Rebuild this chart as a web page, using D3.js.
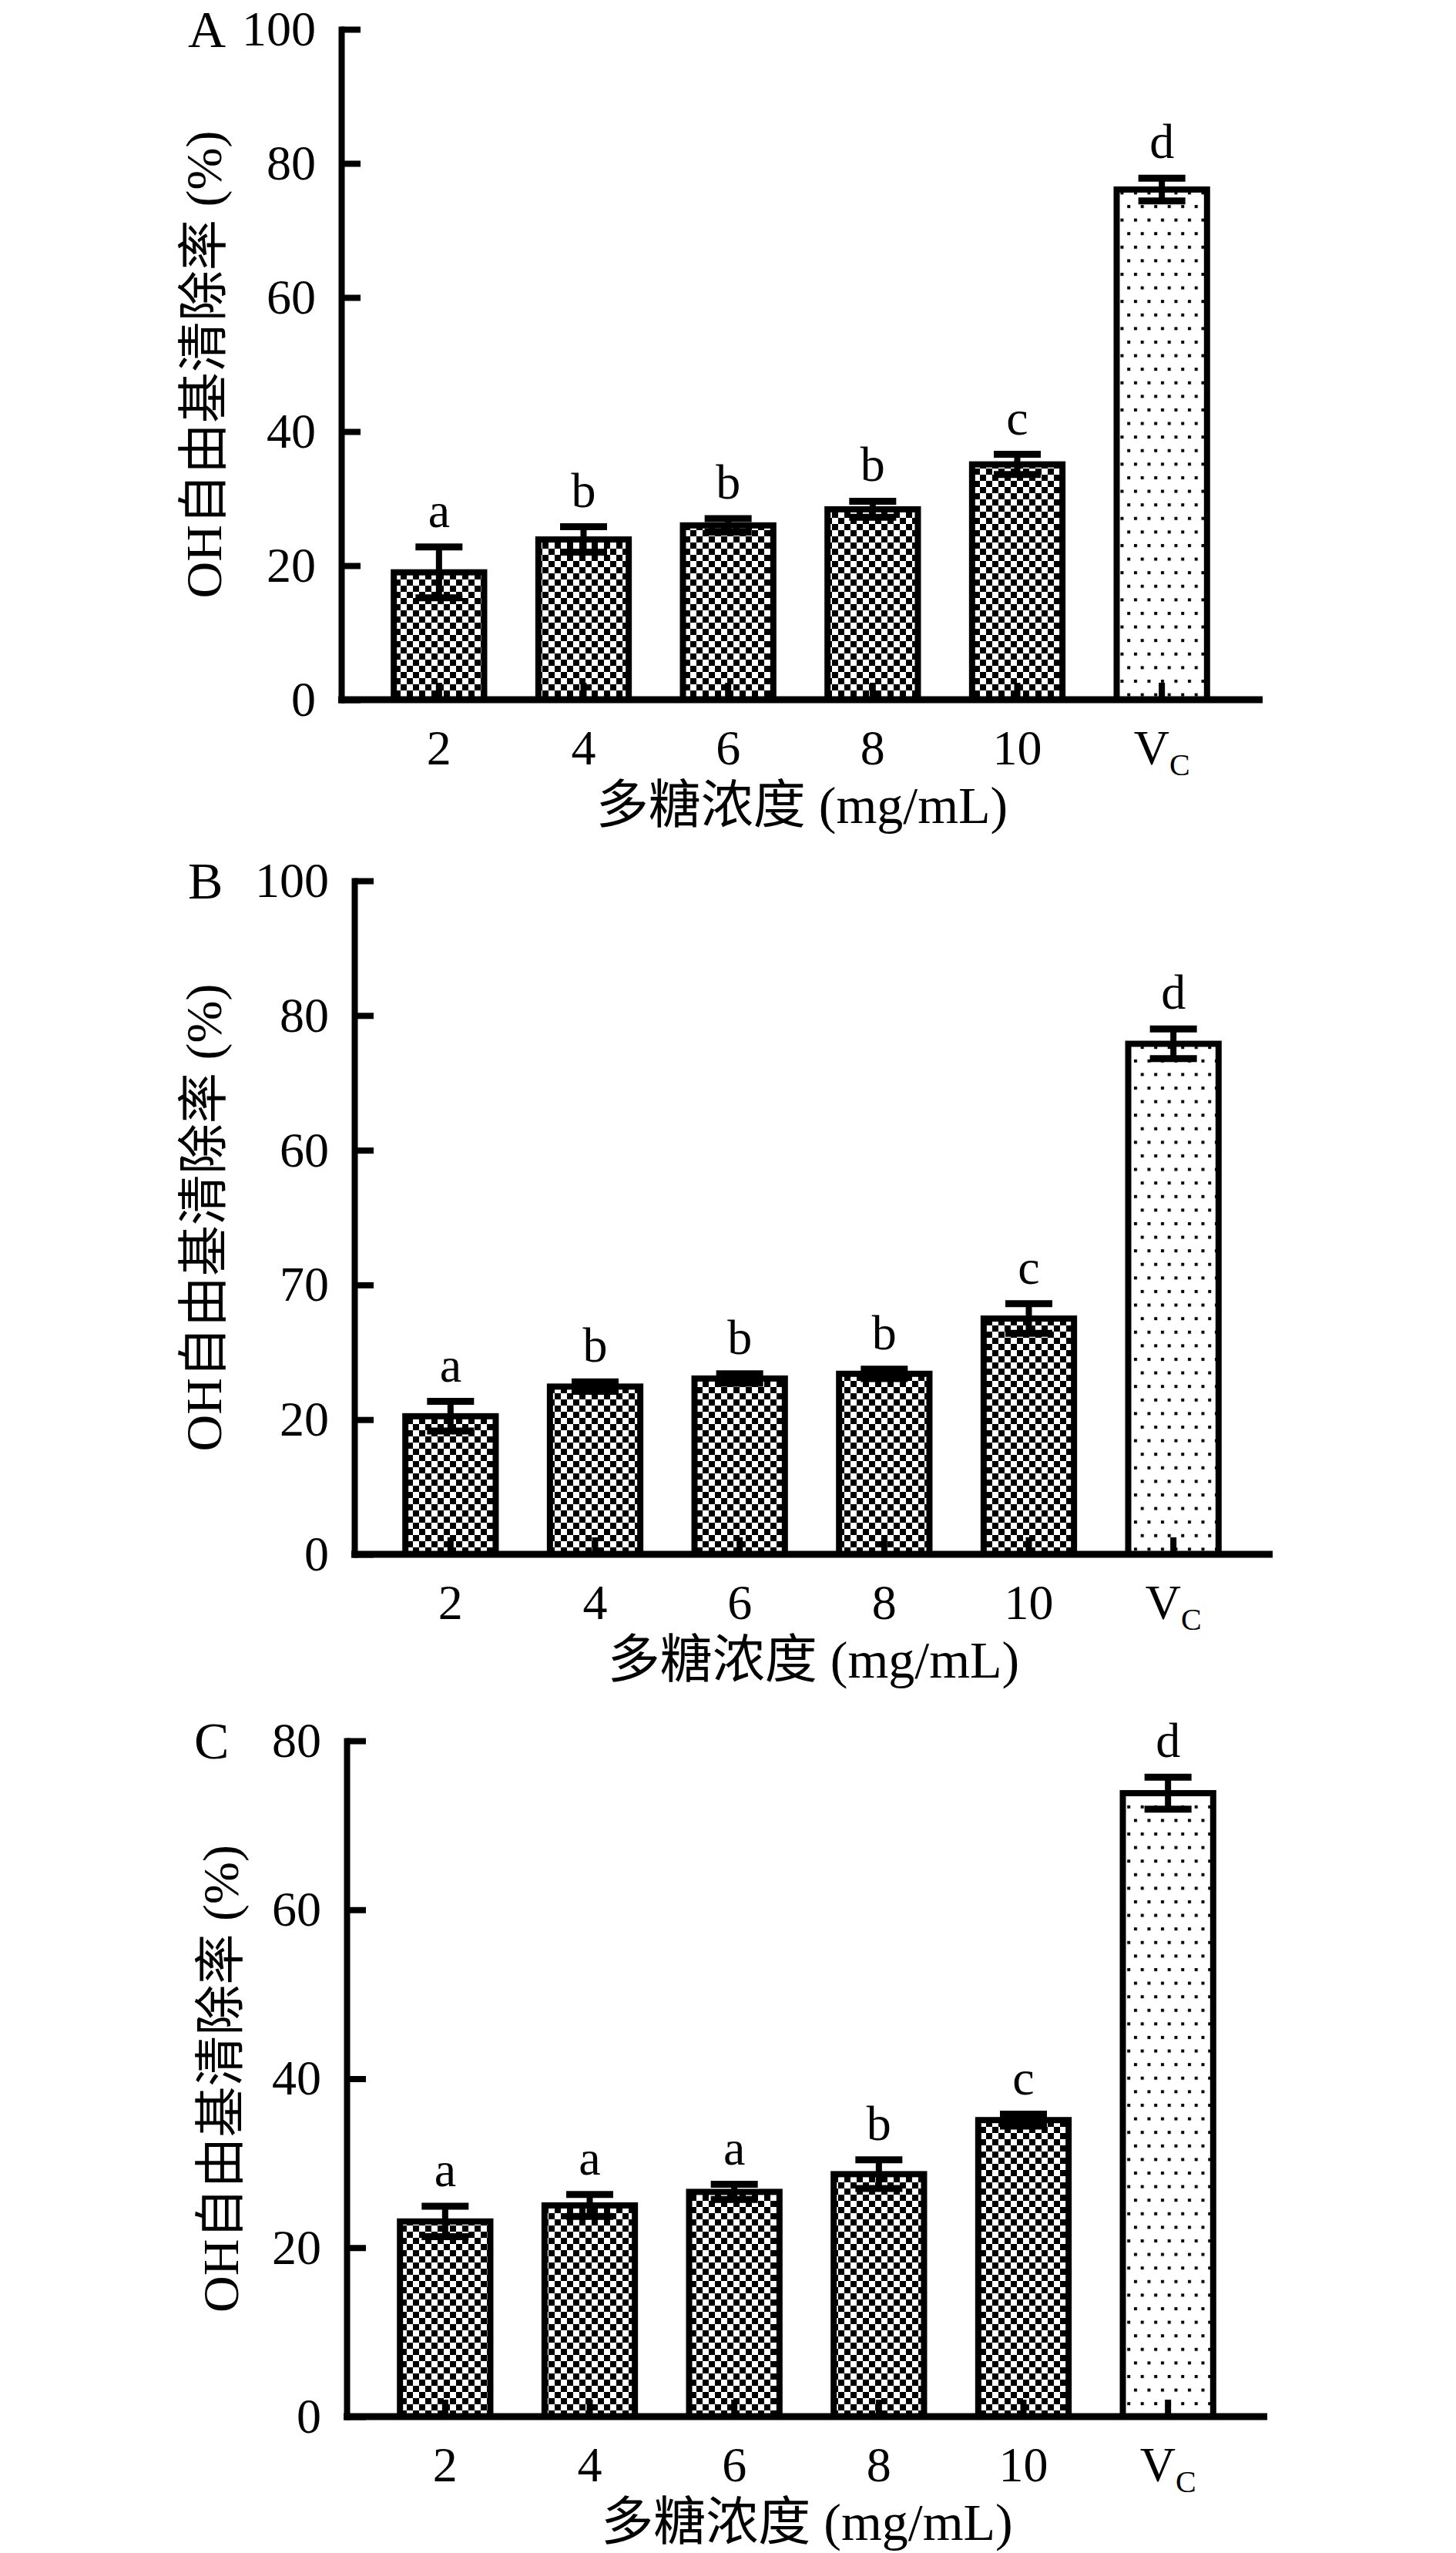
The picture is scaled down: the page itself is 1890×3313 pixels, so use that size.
<!DOCTYPE html>
<html>
<head>
<meta charset="utf-8">
<script src="https://cdn.jsdelivr.net/npm/d3@7/dist/d3.min.js"></script>
<style>
  html, body { margin: 0; padding: 0; background: #fff; }
  svg text { font-family: "Liberation Serif", "Times New Roman", "Noto Sans CJK SC", serif; fill: #000; }
</style>
</head>
<body>
<svg id="chart" width="1890" height="3313"></svg>
<script>
// ---- data ----
const categories = ["2", "4", "6", "8", "10", "VC"];

const valuesA = [19.0, 23.9, 26.0, 28.4, 35.1, 76.1];
const errorsA = [3.8, 1.9, 1.0, 1.2, 1.5, 1.7];
const lettersA = ["a", "b", "b", "b", "c", "d"];
const ticksA = [0, 20, 40, 60, 80, 100];
const tickLabelsA = ["0", "20", "40", "60", "80", "100"];

const valuesB = [20.5, 24.9, 26.1, 26.8, 35.0, 75.8];
const errorsB = [2.2, 0.7, 0.7, 0.7, 2.2, 2.2];
const lettersB = ["a", "b", "b", "b", "c", "d"];
const ticksB = [0, 20, 40, 60, 80, 100];
const tickLabelsB = ["0", "20", "70", "60", "80", "100"];

const valuesC = [23.1, 25.0, 26.6, 28.7, 35.1, 73.8];
const errorsC = [1.8, 1.3, 0.9, 1.7, 0.7, 1.9];
const lettersC = ["a", "a", "a", "b", "c", "d"];
const ticksC = [0, 20, 40, 60, 80];
const tickLabelsC = ["0", "20", "40", "60", "80"];

const yTitle = "OH自由基清除率 (%)";
const xTitle = "多糖浓度 (mg/mL)";
const panelLetters = ["A", "B", "C"];

// ---- layout ----
const svg = d3.select("#chart");
const defs = svg.append("defs");

const checker = defs.append("pattern").attr("id", "checker")
  .attr("patternUnits", "userSpaceOnUse").attr("width", 16).attr("height", 16);
checker.append("rect").attr("width", 16).attr("height", 16).attr("fill", "#fff");
checker.append("rect").attr("x", 0).attr("y", 0).attr("width", 8).attr("height", 8).attr("fill", "#000");
checker.append("rect").attr("x", 8).attr("y", 8).attr("width", 8).attr("height", 8).attr("fill", "#000");

const dots = defs.append("pattern").attr("id", "dots")
  .attr("patternUnits", "userSpaceOnUse").attr("width", 17.5).attr("height", 35.2);
dots.append("rect").attr("width", 17.5).attr("height", 35.2).attr("fill", "#fff");
dots.append("rect").attr("x", 2).attr("y", 2).attr("width", 4).attr("height", 4).attr("fill", "#000");
dots.append("rect").attr("x", 10.75).attr("y", 19.6).attr("width", 4).attr("height", 4).attr("fill", "#000");

const panels = [
  { letter: panelLetters[0], values: valuesA, errors: errorsA, letters: lettersA, ticks: ticksA, tickLabels: tickLabelsA,
    yMax: 100, yRange: [908, 38], axisX: 443, axisEnd: 1639, band: [476, 1602], yLabelX: 264, letterX: 244 },
  { letter: panelLetters[1], values: valuesB, errors: errorsB, letters: lettersB, ticks: ticksB, tickLabels: tickLabelsB,
    yMax: 100, yRange: [2017, 1143], axisX: 460, axisEnd: 1652, band: [491, 1617], yLabelX: 264, letterX: 244 },
  { letter: panelLetters[2], values: valuesC, errors: errorsC, letters: lettersC, ticks: ticksC, tickLabels: tickLabelsC,
    yMax: 80, yRange: [3136, 2259], axisX: 450, axisEnd: 1645, band: [484, 1610], yLabelX: 286, letterX: 252 }
];

panels.forEach(p => {
  const g = svg.append("g");
  const y = d3.scaleLinear().domain([0, p.yMax]).range(p.yRange);
  const x = d3.scaleBand().domain(categories).range(p.band).paddingInner(0.375).paddingOuter(0.1875);
  const y0 = y(0);
  const cx = c => x(c) + x.bandwidth() / 2;

  // bars
  g.selectAll("rect.bar").data(categories).join("rect")
    .attr("class", "bar")
    .attr("x", d => x(d))
    .attr("width", x.bandwidth())
    .attr("y", (d, i) => y(p.values[i]))
    .attr("height", (d, i) => y0 - y(p.values[i]))
    .attr("fill", d => d === "VC" ? "url(#dots)" : "url(#checker)")
    .attr("stroke", "#000").attr("stroke-width", 8);

  // error bars
  const eb = g.selectAll("g.err").data(categories).join("g").attr("class", "err");
  eb.append("line")
    .attr("x1", d => cx(d)).attr("x2", d => cx(d))
    .attr("y1", (d, i) => y(p.values[i] + p.errors[i]))
    .attr("y2", (d, i) => y(p.values[i] - p.errors[i]))
    .attr("stroke", "#000").attr("stroke-width", 8);
  [1, -1].forEach(s => {
    eb.append("line")
      .attr("x1", d => cx(d) - 30.5).attr("x2", d => cx(d) + 30.5)
      .attr("y1", (d, i) => y(p.values[i] + s * p.errors[i]))
      .attr("y2", (d, i) => y(p.values[i] + s * p.errors[i]))
      .attr("stroke", "#000").attr("stroke-width", 9);
  });

  // significance letters
  g.selectAll("text.sig").data(categories).join("text")
    .attr("class", "sig")
    .attr("x", d => cx(d))
    .attr("y", (d, i) => y(p.values[i] + p.errors[i]) - 26)
    .attr("text-anchor", "middle")
    .attr("font-size", 64)
    .text((d, i) => p.letters[i]);

  // y axis
  const yAxis = d3.axisLeft(y).tickValues(p.ticks)
    .tickFormat((d, i) => p.tickLabels[i])
    .tickSizeInner(-25).tickSizeOuter(0).tickPadding(33);
  const ya = g.append("g").attr("transform", `translate(${p.axisX},0)`).call(yAxis);
  ya.select(".domain").attr("stroke", "#000").attr("stroke-width", 8).attr("stroke-linecap", "square");
  ya.selectAll(".tick line").attr("stroke", "#000").attr("stroke-width", 8);
  ya.selectAll(".tick text").attr("font-size", 64).attr("font-family", "Liberation Serif").attr("fill", "#000");

  // x axis
  const xAxis = d3.axisBottom(x).tickSizeInner(-22).tickSizeOuter(0).tickPadding(0);
  const xa = g.append("g").attr("transform", `translate(0,${y0})`).call(xAxis);
  xa.select(".domain").remove();
  xa.selectAll(".tick line").attr("stroke", "#000").attr("stroke-width", 8);
  xa.selectAll(".tick text").attr("font-size", 64).attr("font-family", "Liberation Serif").attr("fill", "#000")
    .attr("y", 84).attr("dy", 0)
    .each(function(d) {
      if (d === "VC") {
        const t = d3.select(this).text("");
        t.append("tspan").text("V");
        t.append("tspan").attr("font-size", 40).attr("dy", 14).text("C");
      }
    });
  g.append("line")
    .attr("x1", p.axisX - 4).attr("x2", p.axisEnd)
    .attr("y1", y0).attr("y2", y0)
    .attr("stroke", "#000").attr("stroke-width", 9);

  // axis titles
  g.append("text")
    .attr("x", (p.axisX + p.axisEnd) / 2)
    .attr("y", y0 + 160)
    .attr("text-anchor", "middle")
    .attr("font-size", 68)
    .text(xTitle);
  g.append("text")
    .attr("transform", `translate(${p.yLabelX},${(p.yRange[0] + p.yRange[1]) / 2}) rotate(-90)`)
    .attr("text-anchor", "middle")
    .attr("dominant-baseline", "central")
    .attr("font-size", 66)
    .text(yTitle);

  // panel letter
  g.append("text")
    .attr("x", p.letterX)
    .attr("y", p.yRange[1] + 23)
    .attr("font-size", 68)
    .text(p.letter);
});
</script>
</body>
</html>
